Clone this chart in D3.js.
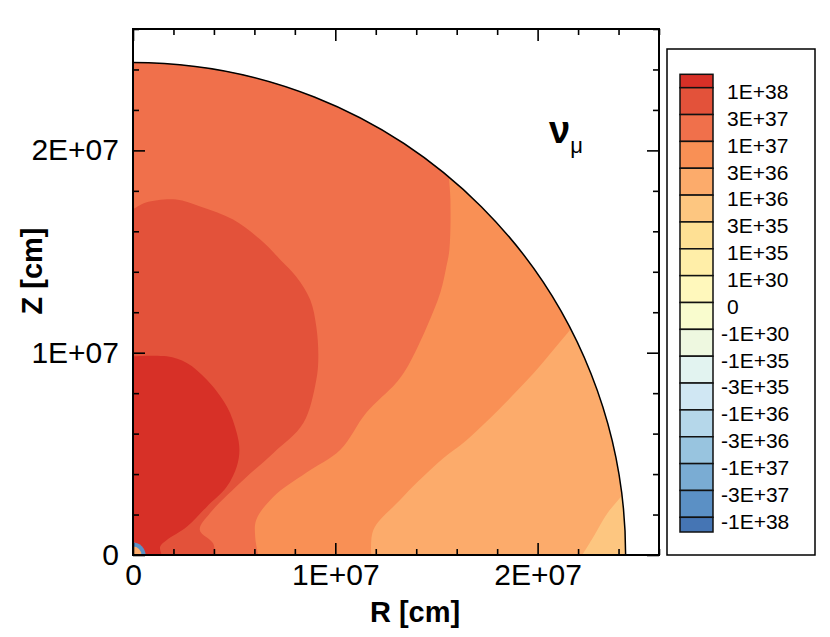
<!DOCTYPE html>
<html>
<head>
<meta charset="utf-8">
<script src="https://cdn.jsdelivr.net/npm/d3@7"></script>
<style>
  body { margin: 0; background: #fff; }
  text { font-family: "Liberation Sans", Arial, sans-serif; fill: #000; }
</style>
</head>
<body>
<svg id="chart" width="830" height="637"></svg>
<script>
// outer radius of the model (cm)
const starRadius = 2.435e7;

// legend levels, top to bottom
const levelLabels = ["1E+38", "3E+37", "1E+37", "3E+36", "1E+36", "3E+35", "1E+35", "1E+30", "0",
    "-1E+30", "-1E+35", "-3E+35", "-1E+36", "-3E+36", "-1E+37", "-3E+37", "-1E+38"];
// one colour per band: above the first level, between levels, below the last one
const bandColors = ["#d73027", "#e3523a", "#f0704b", "#f99055", "#fcab6b", "#fdc680", "#fee094",
    "#ffeea8", "#fff8bc", "#f9fcce", "#eef8e0", "#e2f3f0", "#d0e7f3", "#b5d7ea", "#98c4df",
    "#7aacd3", "#5b90c5", "#4575b4"];

// contour lines, [R, Z] in units of 1e6 cm
const contour1e38 = [[0, 9.82], [1.67, 9.82], [2.66, 9.49], [3.65, 8.66], [4.64, 7.34], [5.13, 6.03],
    [5.26, 5.2], [5.13, 4.37], [4.64, 3.38], [3.65, 2.39], [2.66, 1.4], [1.67, 0.74], [1.34, 0.41], [1.42, 0]];
const contour3e37 = [[0, 17.08], [0.64, 17.42], [2.13, 17.57], [3.32, 17.23], [4.95, 16.58], [6.29, 15.59],
    [7.28, 14.6], [8.07, 13.76], [8.76, 12.62], [9.06, 11.29], [9.16, 9.8], [9.06, 8.66], [8.42, 6.52],
    [6.93, 5.03], [5.45, 3.71], [3.8, 2.06], [3.3, 1.24], [3.96, 0.58], [4.05, 0]];
const contour1e37 = [[15.6, 19.6], [15.61, 18.81], [15.69, 17.57], [15.64, 15.1], [15.49, 14.26],
    [15.2, 13.0], [14.52, 11.27], [13.6, 9.36], [13.0, 8.5], [11.53, 7.03], [10.25, 5.2], [8.56, 4.06],
    [6.93, 2.87], [6.09, 1.73], [6.04, 0.89], [6.19, 0]];
const contour3e36 = [[22.6, 12.3], [21.5, 11.0], [19.5, 8.66], [16.5, 5.69], [15.35, 4.8], [14.06, 3.61],
    [13.2, 2.72], [11.88, 1.24], [11.78, 0]];
const contour1e36 = [[24.9, 3.85], [24.19, 2.97], [23.45, 2.06], [22.77, 0.91], [22.21, 0]];
// small negative core at the origin, radius in 1e6 cm
const coreRadii = [0.62, 0.42];
const coreColors = ["#5b90c5", "#fcab6b"];

const xTicks = [0, 1e7, 2e7];
const minorStep = 2e6;

const svg = d3.select("#chart");
const x = d3.scaleLinear().domain([0, 2.6e7]).range([133, 659]);
const y = d3.scaleLinear().domain([0, 2.6e7]).range([555, 29]);
const fmt = d => d === 0 ? "0" : (d / 1e7) + "E+07";
const M = 1e6;

// clip to the quarter disk
const rpx = x(starRadius) - x(0);
const quarter = d3.arc().innerRadius(0).outerRadius(rpx).startAngle(0).endAngle(Math.PI / 2);
svg.append("clipPath").attr("id", "disk")
    .append("path").attr("d", quarter()).attr("transform", `translate(${x(0)},${y(0)})`);

const plot = svg.append("g").attr("clip-path", "url(#disk)");
const curve = d3.line().x(d => x(d[0] * M)).y(d => y(d[1] * M)).curve(d3.curveCatmullRom);
const region = (line, corners) => curve(line) + corners.map(p => `L${x(p[0] * M)},${y(p[1] * M)}`).join("") + "Z";

// base band (1E+36 .. 3E+36) fills the disk
plot.append("rect").attr("x", x(0)).attr("y", y(2.6e7)).attr("width", x(2.6e7) - x(0)).attr("height", y(0) - y(2.6e7))
    .attr("fill", bandColors[4]);
plot.append("path").attr("d", region(contour1e36, [[26, 0], [26, 3.85]])).attr("fill", bandColors[5]);
plot.append("path").attr("d", region(contour3e36, [[0, 0], [0, 26], [26, 26], [26, 12.3]])).attr("fill", bandColors[3]);
plot.append("path").attr("d", region(contour1e37, [[0, 0], [0, 26], [15.6, 26]])).attr("fill", bandColors[2]);
plot.append("path").attr("d", region(contour3e37, [[0, 0]])).attr("fill", bandColors[1]);
plot.append("path").attr("d", region(contour1e38, [[0, 0]])).attr("fill", bandColors[0]);

coreRadii.forEach((r, i) => {
    const rr = x(r * M) - x(0);
    plot.append("path")
        .attr("d", d3.arc().innerRadius(0).outerRadius(rr).startAngle(0).endAngle(Math.PI / 2)())
        .attr("transform", `translate(${x(0)},${y(0)})`)
        .attr("fill", coreColors[i]);
});

// outline of the star
svg.append("path")
    .attr("d", `M${x(0)},${y(starRadius)} A${rpx},${rpx} 0 0 1 ${x(starRadius)},${y(0)}`)
    .attr("fill", "none").attr("stroke", "#000").attr("stroke-width", 1.5);

// axes with inward ticks on all sides
const minors = d3.range(0, 2.6e7 + 1, minorStep).filter(v => !xTicks.includes(v));
function ticks(axisFn, transform, major, showLabels) {
    const gMinor = svg.append("g").attr("transform", transform)
        .call(axisFn(major ? null : null).tickValues(minors).tickSize(-6).tickFormat(""));
    const gMajor = svg.append("g").attr("transform", transform)
        .call(axisFn().tickValues(xTicks).tickSize(-12).tickPadding(showLabels ? showLabels : 0)
            .tickFormat(showLabels ? fmt : ""));
    [gMinor, gMajor].forEach(g => {
        g.select(".domain").remove();
        g.selectAll("line").attr("stroke", "#000").attr("stroke-width", 1.6);
        g.selectAll("text").attr("font-size", 30).attr("font-family", "Liberation Sans, Arial, sans-serif");
    });
    return gMajor;
}
ticks(() => d3.axisBottom(x), `translate(0,${y(0)})`, true, 9);
ticks(() => d3.axisLeft(y), `translate(${x(0)},0)`, true, 14);
ticks(() => d3.axisTop(x), `translate(0,${y(2.6e7)})`, true, 0);
ticks(() => d3.axisRight(y), `translate(${x(2.6e7)},0)`, true, 0);

svg.append("rect").attr("x", x(0)).attr("y", y(2.6e7)).attr("width", x(2.6e7) - x(0)).attr("height", y(0) - y(2.6e7))
    .attr("fill", "none").attr("stroke", "#000").attr("stroke-width", 2);

// axis titles
svg.append("text").attr("x", 415).attr("y", 622).attr("text-anchor", "middle")
    .attr("font-size", 29).attr("font-weight", "bold").text("R [cm]");
svg.append("text").attr("transform", "translate(42,271) rotate(-90)").attr("text-anchor", "middle")
    .attr("font-size", 29).attr("font-weight", "bold").text("Z [cm]");

// species label
const nu = svg.append("text").attr("x", 549).attr("y", 143).attr("font-size", 38);
nu.append("tspan").attr("font-weight", "bold").text("ν");
nu.append("tspan").attr("font-size", 22).attr("dy", 10).text("μ");

// legend
svg.append("rect").attr("x", 667).attr("y", 49).attr("width", 148).attr("height", 506)
    .attr("fill", "#fff").attr("stroke", "#000").attr("stroke-width", 1.5);
const ly = d3.scaleLinear().domain([0, levelLabels.length - 1]).range([87.7, 517.3]);
const bandEdges = [74.3].concat(levelLabels.map((d, i) => ly(i)), [532]);
const lg = svg.append("g");
lg.selectAll("rect").data(bandColors).join("rect")
    .attr("x", 680).attr("width", 33)
    .attr("y", (d, i) => bandEdges[i]).attr("height", (d, i) => bandEdges[i + 1] - bandEdges[i])
    .attr("fill", d => d).attr("stroke", "#111").attr("stroke-width", 1.5);
lg.selectAll("text").data(levelLabels).join("text")
    .attr("x", d => d.startsWith("-") ? 721 : 727)
    .attr("y", (d, i) => ly(i) + 4).attr("dy", "0.35em")
    .attr("font-size", 21).text(d => d);
</script>
</body>
</html>
